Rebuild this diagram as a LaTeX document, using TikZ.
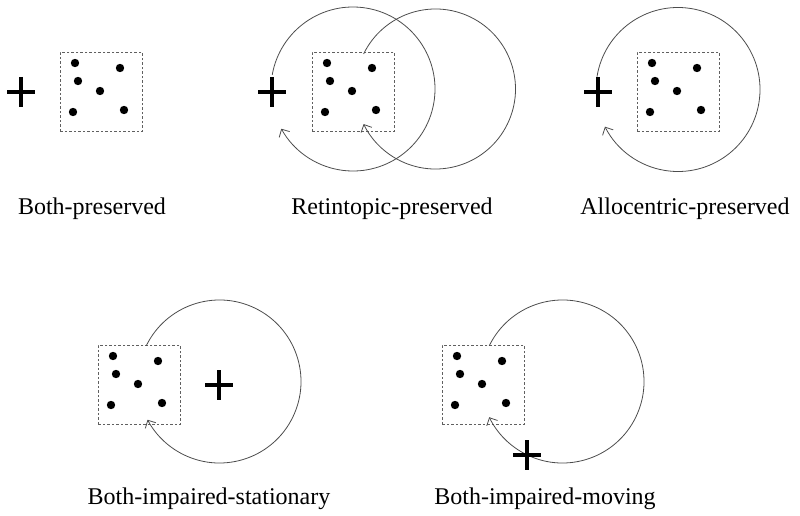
\documentclass[tikz,border=0pt]{standalone}
\usepackage{fontspec}
\setmainfont{Liberation Serif}
\usetikzlibrary{arrows.meta}

\tikzset{
  stim/.style={draw=gray!75!black, line width=0.7pt, dash pattern=on 2.5pt off 2pt,
    minimum width=82pt, minimum height=79pt, inner sep=0pt, anchor=north west},
  motion/.style={draw=black!70, line width=0.8pt, -{Straight Barb[length=6pt,width=12pt]}},
  fixation/.style={line width=3.6pt},
  caption/.style={font=\fontsize{24}{28}\selectfont, anchor=base, inner sep=0pt}
}

\begin{document}
\begin{tikzpicture}[x=1pt, y=-1pt]
                  \useasboundingbox (0, 0) rectangle (800, 516);

                  % stimulus boxes with the six dots
                  \foreach \n/\bx/\by in {A/60/52, B/312/52, C/637/52, D/98/345, E/442/345} {
                          \node[stim] (box\n) at (\bx, \by) {};
                          \foreach \dx/\dy in {15/11, 60/16, 18/29, 40/39, 13/60, 64/58} {
                                  \fill (box\n.north west) ++(\dx, \dy) circle[radius=4.2];
                              }
                      }

                  % circle centres of the movements
                  \coordinate (orbB) at (353, 89);
                  \coordinate (orbBb) at (435.5, 89);
                  \coordinate (orbC) at (678, 89.5);
                  \coordinate (orbD) at (219.5, 381.5);
                  \coordinate (orbE) at (562.5, 381.5);

                  \draw[motion] (orbB) ++(190:82) arc[start angle=190, end angle=511, radius=82];
                  \draw[motion] (orbBb) ++(206:80) arc[start angle=206, end angle=514, radius=80];
                  \draw[motion] (orbC) ++(189:82) arc[start angle=189, end angle=513, radius=82];
                  \draw[motion] (orbD) ++(206:81.5) arc[start angle=206, end angle=512, radius=81.5];
                  \draw[motion] (orbE) ++(206:81.5) arc[start angle=206, end angle=514, radius=81.5];

                  % fixation crosses
                  \coordinate (fixA) at (21, 92);
                  \coordinate (fixB) at (272, 92);
                  \coordinate (fixC) at (598, 92);
                  \coordinate (fixD) at (219, 385);
                  \coordinate (fixE) at (527, 455);
                  \foreach \f in {fixA, fixB, fixC, fixD, fixE} {
                          \draw[fixation] (\f) +(-14, 0) -- +(14, 0) +(0, -15) -- +(0, 15);
                      }

                  \node[caption] (capA) at (92, 214) {Both-preserved};
                  \node[caption] (capB) at (392, 214) {Retintopic-preserved};
                  \node[caption] (capC) at (685, 214) {Allocentric-preserved};
                  \node[caption] (capD) at (209, 504) {Both-impaired-stationary};
                  \node[caption] (capE) at (545, 504) {Both-impaired-moving};
              \end{tikzpicture}
\end{document}
